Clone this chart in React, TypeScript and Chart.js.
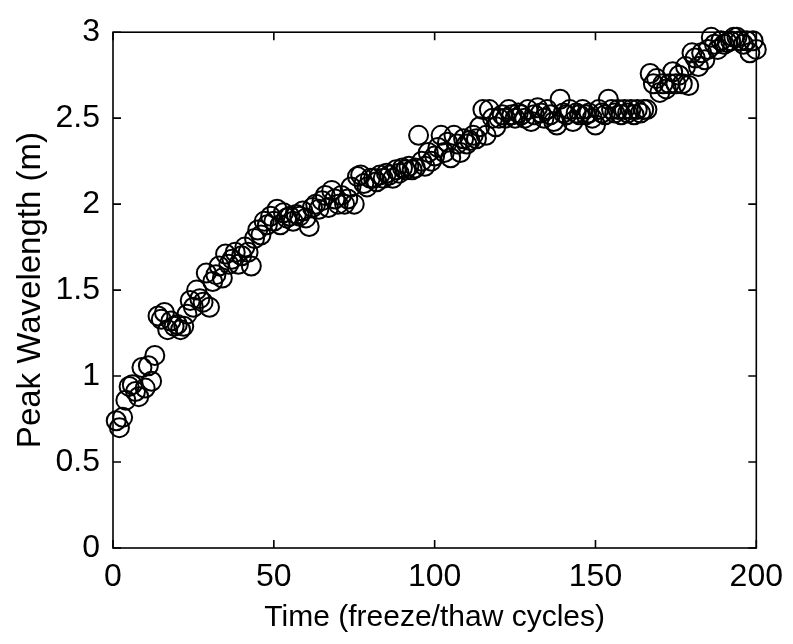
import React, { useEffect, useRef } from "react";
import { Chart, registerables } from "chart.js";

Chart.register(...registerables);

const cycles = [
  1, 2, 3, 4, 5, 6, 7, 8, 9, 10, 11, 12, 13, 14, 15, 16, 17, 18, 19, 20,
  21, 22, 23, 24, 25, 26, 27, 28, 29, 30, 31, 32, 33, 34, 35, 36, 37, 38, 39, 40,
  41, 42, 43, 44, 45, 46, 47, 48, 49, 50, 51, 52, 53, 54, 55, 56, 57, 58, 59, 60,
  61, 62, 63, 64, 65, 66, 67, 68, 69, 70, 71, 72, 73, 74, 75, 76, 77, 78, 79, 80,
  81, 82, 83, 84, 85, 86, 87, 88, 89, 90, 91, 92, 93, 94, 95, 96, 97, 98, 99, 100,
  101, 102, 103, 104, 105, 106, 107, 108, 109, 110, 111, 112, 113, 114, 115, 116, 117, 118, 119, 120,
  121, 122, 123, 124, 125, 126, 127, 128, 129, 130, 131, 132, 133, 134, 135, 136, 137, 138, 139, 140,
  141, 142, 143, 144, 145, 146, 147, 148, 149, 150, 151, 152, 153, 154, 155, 156, 157, 158, 159, 160,
  161, 162, 163, 164, 165, 166, 167, 168, 169, 170, 171, 172, 173, 174, 175, 176, 177, 178, 179, 180,
  181, 182, 183, 184, 185, 186, 187, 188, 189, 190, 191, 192, 193, 194, 195, 196, 197, 198, 199, 200,
];

const peakWavelength = [
  0.74, 0.70, 0.76, 0.86, 0.94, 0.95, 0.91, 0.88, 1.05, 0.93,
  1.06, 0.97, 1.12, 1.35, 1.33, 1.37, 1.27, 1.32, 1.29, 1.30,
  1.27, 1.29, 1.36, 1.44, 1.40, 1.50, 1.45, 1.43, 1.60, 1.40,
  1.55, 1.59, 1.64, 1.57, 1.71, 1.65, 1.68, 1.72, 1.65, 1.70,
  1.75, 1.72, 1.64, 1.80, 1.85, 1.82, 1.90, 1.88, 1.93, 1.90,
  1.97, 1.88, 1.95, 1.92, 1.93, 1.90, 1.94, 1.93, 1.96, 1.92,
  1.87, 1.98, 2.00, 1.97, 2.02, 2.05, 1.98, 2.08, 2.03, 2.00,
  2.05, 2.00, 2.03, 2.10, 2.00, 2.16, 2.17, 2.12, 2.10, 2.15,
  2.15, 2.13, 2.17, 2.15, 2.18, 2.17, 2.15, 2.20, 2.18, 2.21,
  2.20, 2.22, 2.20, 2.21, 2.40, 2.25, 2.22, 2.30, 2.25, 2.28,
  2.33, 2.40, 2.30, 2.36, 2.27, 2.40, 2.35, 2.30, 2.38, 2.35,
  2.37, 2.40, 2.38, 2.45, 2.55, 2.40, 2.55, 2.50, 2.45, 2.50,
  2.52, 2.50, 2.55, 2.52, 2.50, 2.53, 2.52, 2.50, 2.55, 2.48,
  2.52, 2.56, 2.53, 2.50, 2.55, 2.52, 2.48, 2.46, 2.61, 2.53,
  2.52, 2.55, 2.48, 2.53, 2.52, 2.55, 2.52, 2.53, 2.50, 2.46,
  2.55, 2.53, 2.52, 2.61, 2.55, 2.53, 2.55, 2.52, 2.55, 2.53,
  2.55, 2.52, 2.55, 2.53, 2.55, 2.55, 2.76, 2.70, 2.73, 2.65,
  2.70, 2.67, 2.70, 2.77, 2.70, 2.75, 2.70, 2.80, 2.69, 2.88,
  2.85, 2.80, 2.88, 2.84, 2.90, 2.97, 2.93, 2.90, 2.95, 2.93,
  2.94, 2.95, 2.97, 2.97, 2.95, 2.93, 2.95, 2.88, 2.95, 2.90,
];

const xTicks = [0, 50, 100, 150, 200];
const yTicks = [0, 0.5, 1, 1.5, 2, 2.5, 3];

const FONT = "'Liberation Sans', Arial, Helvetica, sans-serif";

const framePlugin = {
  id: "matlabFrame",
  afterDraw(chart: any) {
    const { ctx, chartArea, scales } = chart;
    const { left, right, top, bottom } = chartArea;
    const x = scales.x;
    const y = scales.y;
    const L = 8;
    ctx.save();
    ctx.strokeStyle = "#000";
    ctx.lineWidth = 1.6;
    ctx.strokeRect(left, top, right - left, bottom - top);
    ctx.beginPath();
    xTicks.forEach((v) => {
      const px = x.getPixelForValue(v);
      ctx.moveTo(px, bottom);
      ctx.lineTo(px, bottom - L);
      ctx.moveTo(px, top);
      ctx.lineTo(px, top + L);
    });
    yTicks.forEach((v) => {
      const py = y.getPixelForValue(v);
      ctx.moveTo(left, py);
      ctx.lineTo(left + L, py);
      ctx.moveTo(right, py);
      ctx.lineTo(right - L, py);
    });
    ctx.stroke();
    ctx.restore();
  },
};

export default function App() {
  const ref = useRef<HTMLCanvasElement | null>(null);

  useEffect(() => {
    if (!ref.current) return;
    const data = cycles.map((t, i) => ({ x: t, y: peakWavelength[i] }));
    const chart = new Chart(ref.current, {
      type: "scatter",
      data: {
        datasets: [
          {
            data,
            pointStyle: "circle",
            pointRadius: 9.5,
            pointBorderWidth: 2,
            pointBorderColor: "#000",
            pointBackgroundColor: "rgba(0,0,0,0)",
            pointHoverRadius: 9.5,
            clip: false as any,
          },
        ],
      },
      options: {
        animation: false,
        responsive: false,
        events: [],
        layout: { padding: { left: 0, top: 22, right: 35, bottom: 0 } },
        plugins: {
          legend: { display: false },
          tooltip: { enabled: false },
        },
        scales: {
          x: {
            type: "linear",
            min: 0,
            max: 200,
            afterFit: (s: any) => {
              s.height = 96;
            },
            afterBuildTicks: (s: any) => {
              s.ticks = xTicks.map((v) => ({ value: v }));
            },
            grid: { display: false, drawTicks: false },
            border: { display: false },
            ticks: {
              color: "#000",
              font: { family: FONT, size: 32 },
              padding: 10,
              maxRotation: 0,
              autoSkip: false,
            },
            title: {
              display: true,
              text: "Time (freeze/thaw cycles)",
              color: "#000",
              font: { family: FONT, size: 30 },
              padding: { top: 8, bottom: 8 },
            },
          },
          y: {
            type: "linear",
            min: 0,
            max: 3,
            afterFit: (s: any) => {
              s.width = 113;
            },
            afterBuildTicks: (s: any) => {
              s.ticks = yTicks.map((v) => ({ value: v }));
            },
            grid: { display: false, drawTicks: false },
            border: { display: false },
            ticks: {
              color: "#000",
              font: { family: FONT, size: 32 },
              padding: 13,
              autoSkip: false,
              callback: (v: any) => String(v),
            },
            title: {
              display: true,
              text: "Peak Wavelength (m)",
              color: "#000",
              font: { family: FONT, size: 33 },
              padding: { top: 11, bottom: 11 },
            },
          },
        },
      },
      plugins: [framePlugin],
    });
    return () => chart.destroy();
  }, []);

  return (
    <div style={{ position: "fixed", left: 0, top: 0, width: 793, height: 644, background: "#fff" }}>
      <canvas ref={ref} width={793} height={644} style={{ width: 793, height: 644, display: "block" }} />
    </div>
  );
}
